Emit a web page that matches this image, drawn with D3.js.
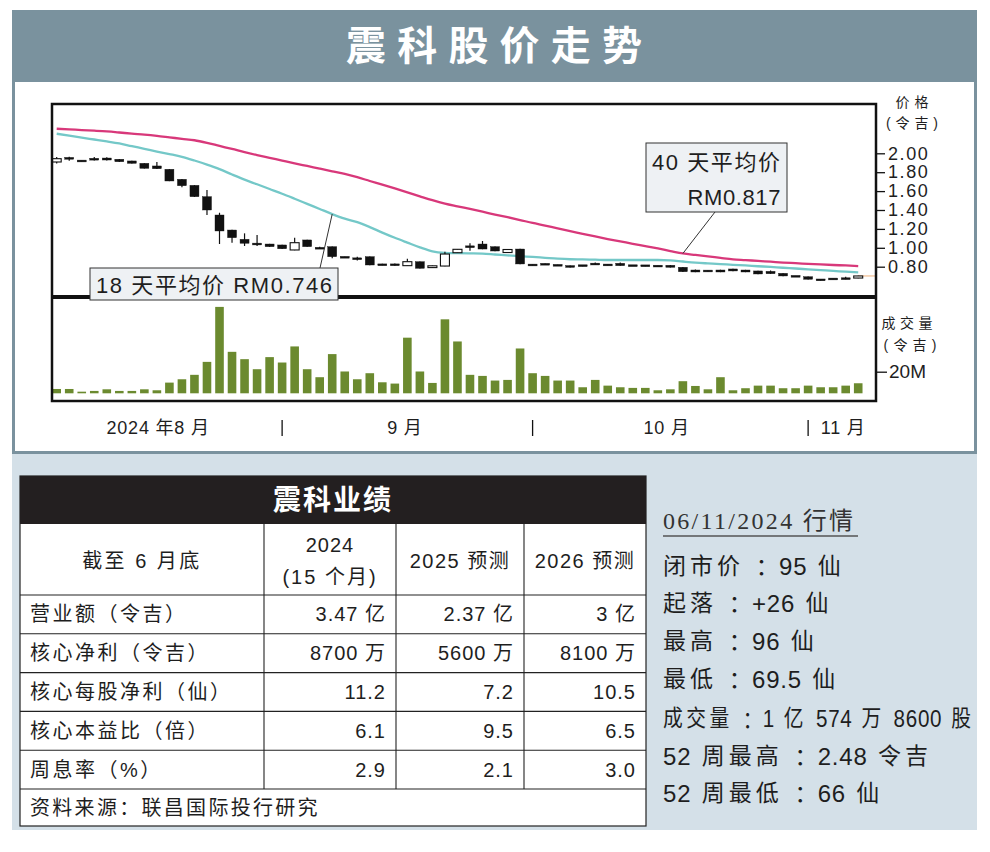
<!DOCTYPE html>
<html><head><meta charset="utf-8">
<script src="https://cdn.jsdelivr.net/npm/d3@7/dist/d3.min.js"></script>
<style>
body{margin:0;background:#fff}
svg{display:block}
text{font-family:"Liberation Sans","Noto Sans CJK SC",sans-serif;fill:#1e1e1e}
</style></head><body>
<svg id="c" width="990" height="852"></svg>
<script>
// ---------- data ----------
const opens  = [1.908,1.948,1.920,1.939,1.950,1.937,1.919,1.894,1.866,1.831,1.725,1.661,1.541,1.347,1.188,1.090,1.041,1.040,1.030,0.977,1.083,0.998,1.012,0.902,0.885,0.906,0.822,0.829,0.811,0.853,0.792,0.807,0.948,1.012,1.040,1.012,0.950,0.987,0.820,0.827,0.817,0.811,0.812,0.829,0.820,0.836,0.812,0.811,0.808,0.815,0.794,0.765,0.756,0.765,0.776,0.765,0.755,0.751,0.730,0.700,0.694,0.662,0.671,0.674,0.680];
const closes = [1.943,1.946,1.917,1.936,1.929,1.911,1.894,1.841,1.837,1.707,1.657,1.541,1.400,1.178,1.107,1.048,1.039,1.012,0.990,1.054,1.012,0.993,0.906,0.898,0.883,0.818,0.818,0.811,0.853,0.783,0.808,0.934,0.984,1.010,0.987,0.966,0.982,0.829,0.816,0.825,0.813,0.794,0.809,0.827,0.817,0.811,0.809,0.808,0.805,0.794,0.747,0.744,0.753,0.744,0.755,0.744,0.723,0.726,0.702,0.697,0.667,0.659,0.669,0.672,0.702];
const highs  = [1.961,1.964,1.921,1.962,1.958,1.940,1.921,1.896,1.908,1.833,1.727,1.663,1.612,1.371,1.190,1.153,1.135,1.042,1.032,1.107,1.085,1.010,1.015,0.905,0.905,0.908,0.832,0.835,0.885,0.855,0.812,0.959,0.986,1.048,1.072,1.014,0.985,0.990,0.822,0.835,0.820,0.813,0.815,0.845,0.823,0.845,0.814,0.813,0.810,0.817,0.796,0.770,0.760,0.768,0.778,0.767,0.757,0.760,0.732,0.702,0.696,0.665,0.673,0.694,0.705];
const lows   = [1.892,1.922,1.916,1.925,1.925,1.908,1.892,1.839,1.835,1.705,1.640,1.538,1.347,1.040,1.054,1.019,1.020,1.010,0.988,0.975,1.010,0.990,0.889,0.895,0.865,0.816,0.816,0.810,0.810,0.780,0.788,0.805,0.946,0.969,0.985,0.964,0.945,0.826,0.814,0.820,0.810,0.792,0.806,0.820,0.815,0.809,0.807,0.806,0.803,0.792,0.745,0.742,0.750,0.742,0.753,0.742,0.721,0.724,0.700,0.695,0.665,0.655,0.667,0.668,0.678];
const volumes = [4.0,4.0,1.5,2.2,3.7,2.2,2.2,3.7,2.8,9.9,13.0,17.1,29.1,80,38.4,31.6,22.3,33.5,28.5,43.4,22.3,14.9,36.3,20.2,13.0,18.6,10.2,9.0,51.5,20.2,9.6,68.5,48,17.1,16.1,11.8,12.4,41.5,18.6,16.1,11.8,11.8,5.6,12.4,7.1,5.6,5.0,5.0,2.8,3.7,11.2,6.8,3.7,14.9,2.8,4.7,7.1,7.1,4.7,4.7,7.1,5.6,5.6,7.1,9.3];
const ma40 = [2.260,2.253,2.246,2.239,2.231,2.220,2.208,2.198,2.185,2.169,2.153,2.138,2.111,2.078,2.046,2.012,1.981,1.952,1.923,1.894,1.866,1.838,1.810,1.782,1.747,1.707,1.668,1.628,1.587,1.545,1.504,1.468,1.439,1.411,1.382,1.352,1.324,1.294,1.263,1.235,1.205,1.177,1.148,1.120,1.093,1.068,1.042,1.018,0.993,0.966,0.940,0.924,0.909,0.893,0.878,0.870,0.861,0.853,0.844,0.837,0.830,0.824,0.818,0.813,0.807];
const ma18 = [2.207,2.187,2.166,2.146,2.126,2.104,2.075,2.048,2.019,1.992,1.963,1.924,1.881,1.833,1.776,1.721,1.672,1.622,1.572,1.519,1.465,1.411,1.357,1.309,1.271,1.219,1.161,1.106,1.055,1.005,0.963,0.947,0.943,0.941,0.938,0.929,0.920,0.911,0.903,0.894,0.885,0.879,0.877,0.874,0.871,0.871,0.871,0.871,0.871,0.868,0.855,0.843,0.835,0.828,0.820,0.813,0.805,0.798,0.789,0.781,0.772,0.764,0.756,0.747,0.739];
const priceTicks = [2.00,1.80,1.60,1.40,1.20,1.00,0.80];
const volTicks = [20];
const monthBreaks = [18,38,60];
const monthLabels = ["2024 年8 月","9 月","10 月","11 月"];
const monthLabelPos = [8.1,27.8,48.7,62.8];
const ma18Label = "18 天平均价 RM0.746";
const ma40Label = ["40 天平均价","RM0.817"];

const tableTitle = "震科业绩";
const tableHead = ["截至 6 月底",["2024","(15 个月)"],"2025 预测","2026 预测"];
const rowLabels = ["营业额（令吉）","核心净利（令吉）","核心每股净利（仙）","核心本益比（倍）","周息率（%）"];
const col2024 = ["3.47 亿","8700 万","11.2","6.1","2.9"];
const col2025 = ["2.37 亿","5600 万","7.2","9.5","2.1"];
const col2026 = ["3 亿","8100 万","10.5","6.5","3.0"];
const sourceNote = "资料来源：联昌国际投行研究";

const quoteTitle = "06/11/2024 行情";
const quoteLines = ["闭市价：95 仙","起落：+26 仙","最高：96 仙","最低：69.5 仙","成交量：1 亿 574 万 8600 股","52 周最高：2.48 令吉","52 周最低：66 仙"];
const quoteWidths = [180,167,149,177,308,274,217];

// ---------- layout ----------
const svg = d3.select("#c");
const GRAY = "#7a929e", LIGHT = "#d4e0e8";
svg.append("rect").attr("x",12).attr("y",10).attr("width",965).attr("height",444).attr("fill",GRAY);
svg.append("rect").attr("x",15).attr("y",82).attr("width",959).attr("height",369).attr("fill","#fff");
svg.append("rect").attr("x",12).attr("y",454).attr("width",965).attr("height",376).attr("fill",LIGHT);

svg.append("text").text("震科股价走势").attr("x",494).attr("y",46)
  .attr("text-anchor","middle").attr("dominant-baseline","central")
  .attr("font-size",40).attr("font-weight",700).style("fill","#fff")
  .attr("textLength",296).attr("lengthAdjust","spacing");

// scales
const x = d3.scaleLinear().domain([-0.375,65.5]).range([52,877]);
const yP = d3.scaleLinear().domain([0.8,2.0]).range([266.7,153.3]);
const yV = d3.scaleLinear().domain([0,20]).range([393.3,371.7]);

const idx = d3.range(opens.length);

svg.append("clipPath").attr("id","pclip").append("rect")
  .attr("x",52).attr("y",104).attr("width",824).attr("height",192);

const pg = svg.append("g").attr("clip-path","url(#pclip)");
const line = arr => d3.line().x((d,i)=>x(i)).y(d=>yP(d)).curve(d3.curveMonotoneX)(arr);
pg.append("path").attr("d",line(ma40)).attr("fill","none").attr("stroke","#d8387a").attr("stroke-width",2.3);
pg.append("path").attr("d",line(ma18)).attr("fill","none").attr("stroke","#74c8c8").attr("stroke-width",2.3);

pg.append("line").attr("x1",x(idx.length-1)).attr("x2",880)
  .attr("y1",yP(closes[closes.length-1])).attr("y2",yP(closes[closes.length-1]))
  .attr("stroke","#f0b07a").attr("stroke-width",1);

const cg = pg.append("g");
idx.forEach(i=>{
  cg.append("line").attr("x1",x(i)).attr("x2",x(i)).attr("y1",yP(highs[i])).attr("y2",yP(lows[i]))
    .attr("stroke","#111").attr("stroke-width",1.2);
  const top = yP(Math.max(opens[i],closes[i])), bot = yP(Math.min(opens[i],closes[i]));
  const h = Math.max(1.8, bot-top);
  const up = closes[i] > opens[i] + 0.005;
  cg.append("rect").attr("x",x(i)-4.5).attr("width",9).attr("y",(top+bot)/2-h/2).attr("height",h)
    .attr("fill",up?"#fff":"#111").attr("stroke","#111").attr("stroke-width",up?1.1:0.4);
});

svg.append("g").selectAll("rect").data(volumes).join("rect")
  .attr("x",(d,i)=>x(i)-4.3).attr("width",8.6)
  .attr("y",d=>yV(d)).attr("height",d=>yV(0)-yV(d)).attr("fill","#6b8a2f");

svg.append("rect").attr("x",52).attr("y",104).attr("width",824).attr("height",297)
  .attr("fill","none").attr("stroke","#111").attr("stroke-width",2.5);
svg.append("line").attr("x1",52).attr("x2",876).attr("y1",297).attr("y2",297)
  .attr("stroke","#111").attr("stroke-width",4);

const pa = svg.append("g").attr("transform","translate(877,0)")
  .call(d3.axisRight(yP).tickValues(priceTicks).tickSize(8).tickPadding(3).tickFormat(d3.format(".2f")));
pa.select(".domain").remove();
pa.selectAll("line").attr("stroke","#111").attr("stroke-width",1.3);
pa.selectAll("text").attr("font-size",18).style("letter-spacing","1.6px")
  .style("font-family","Liberation Sans").style("fill","#1e1e1e");

const va = svg.append("g").attr("transform","translate(877,0)")
  .call(d3.axisRight(yV).tickValues(volTicks).tickSize(10).tickPadding(2).tickFormat(d=>d+"M"));
va.select(".domain").remove();
va.selectAll("line").attr("stroke","#111").attr("stroke-width",1.3);
va.selectAll("text").attr("font-size",19).style("font-family","Liberation Sans").style("fill","#1e1e1e");

const small = (t,cx,cy,w)=>svg.append("text").text(t).attr("x",cx).attr("y",cy)
  .attr("text-anchor","middle").attr("dominant-baseline","central").attr("font-size",14)
  .attr("textLength",w).attr("lengthAdjust","spacing");
small("价格",912,102,33);
small("( 令 吉 )",912,123,52);
small("成交量",907,323,51);
small("( 令 吉 )",910,345,53);

monthBreaks.forEach(b=>{
  svg.append("line").attr("x1",x(b)).attr("x2",x(b)).attr("y1",420).attr("y2",436)
    .attr("stroke","#111").attr("stroke-width",1.3);
});
monthLabels.forEach((t,k)=>{
  svg.append("text").text(t).attr("x",x(monthLabelPos[k])).attr("y",428)
    .attr("text-anchor","middle").attr("dominant-baseline","central")
    .attr("font-size",18).style("letter-spacing","0.8px");
});

// annotations
const a18 = 22, a40 = 50;
svg.append("line").attr("x1",x(a18)).attr("y1",yP(ma18[a18])).attr("x2",320).attr("y2",268)
  .attr("stroke","#333").attr("stroke-width",1);
svg.append("rect").attr("x",90).attr("y",268).attr("width",248).attr("height",32)
  .attr("fill","#eef1f4").attr("stroke","#333").attr("stroke-width",1);
svg.append("text").text(ma18Label).attr("x",96).attr("y",285).attr("dominant-baseline","central")
  .attr("font-size",22).attr("textLength",236).attr("lengthAdjust","spacing");

svg.append("line").attr("x1",x(a40)).attr("y1",yP(ma40[a40])).attr("x2",715).attr("y2",212)
  .attr("stroke","#333").attr("stroke-width",1);
svg.append("rect").attr("x",646).attr("y",143).attr("width",141).attr("height",69)
  .attr("fill","#eef1f4").attr("stroke","#333").attr("stroke-width",1);
svg.append("text").text(ma40Label[0]).attr("x",652).attr("y",162).attr("dominant-baseline","central")
  .attr("font-size",22).attr("textLength",128).attr("lengthAdjust","spacing");
svg.append("text").text(ma40Label[1]).attr("x",781).attr("y",197).attr("dominant-baseline","central")
  .attr("text-anchor","end").attr("font-size",22).style("letter-spacing","0.6px");

// ---------- table ----------
const T = {cols:[20,264,396,524,646], headBot:524, hdrBot:595, rowH:38.8};
svg.append("rect").attr("x",20).attr("y",476).attr("width",626).attr("height",350)
  .attr("fill","#fff").attr("stroke","#222").attr("stroke-width",1.2);
svg.append("rect").attr("x",20).attr("y",476).attr("width",626).attr("height",48).attr("fill","#231f20");
svg.append("text").text(tableTitle).attr("x",333).attr("y",500).attr("text-anchor","middle")
  .attr("dominant-baseline","central").attr("font-size",28).attr("font-weight",700)
  .style("fill","#fff").style("letter-spacing","2px");

const rowYs = d3.range(6).map(k=>T.hdrBot + k*T.rowH);
[T.hdrBot, ...rowYs.slice(1)].forEach(yy=>{
  svg.append("line").attr("x1",20).attr("x2",646).attr("y1",yy).attr("y2",yy).attr("stroke","#222").attr("stroke-width",1.1);
});
T.cols.slice(1,4).forEach(cx=>{
  svg.append("line").attr("x1",cx).attr("x2",cx).attr("y1",T.headBot).attr("y2",rowYs[5]).attr("stroke","#222").attr("stroke-width",1.1);
});
const tt = (t,xx,yy,anchor,ls)=>svg.append("text").text(t).attr("x",xx).attr("y",yy)
  .attr("text-anchor",anchor).attr("dominant-baseline","central").attr("font-size",20)
  .style("letter-spacing",(ls||0)+"px");
const hcy = (T.headBot+T.hdrBot)/2+1;
tt(tableHead[0],142,hcy,"middle",2.5);
tt(tableHead[1][0],330,545,"middle",1);
tt(tableHead[1][1],330,577,"middle",2);
tt(tableHead[2],460,hcy,"middle",1.5);
tt(tableHead[3],585,hcy,"middle",1.5);
const valCols = [col2024,col2025,col2026];
rowLabels.forEach((lab,k)=>{
  const cy = rowYs[k]+T.rowH/2;
  tt(lab,30,cy,"start",2.5);
  valCols.forEach((col,c)=>{
    tt(col[k],T.cols[c+2]-10,cy,"end",1);
  });
});
tt(sourceNote,30,rowYs[5]+(826-rowYs[5])/2,"start",2.3);

// ---------- quote panel ----------
svg.append("text").text(quoteTitle).attr("x",663).attr("y",521).attr("dominant-baseline","central")
  .attr("font-size",24).style("font-family","'Liberation Serif','Noto Sans CJK SC',serif")
  .style("fill","#333").style("letter-spacing","2.3px");
svg.append("line").attr("x1",663).attr("x2",858).attr("y1",536).attr("y2",536).attr("stroke","#555").attr("stroke-width",1.5);
const qY = [566,603,641,679,718,756,793];
quoteLines.forEach((t,k)=>{
  const parts = t.split("：");
  const te = svg.append("text").attr("x",0).attr("y",0).attr("dominant-baseline","central")
    .attr("font-size",23).style("letter-spacing","4px");
  const addRuns = s => {
    s.split(/([0-9.+]+)/).filter(r=>r.length).forEach(r=>{
      const isNum = /^[0-9.+]+$/.test(r);
      const sp = te.append("tspan").text(r);
      if (isNum) sp.attr("font-size",24).style("letter-spacing","0.8px");
    });
  };
  addRuns(parts[0]);
  te.append("tspan").text("：").attr("dx",6).style("font-family","'Noto Sans CJK TC'").style("letter-spacing","6px");
  addRuns(parts[1]);
  const natural = te.node().getComputedTextLength() + 2;
  const sx = natural > quoteWidths[k] + 8 ? quoteWidths[k]/natural : 1;
  te.attr("transform",`translate(663,${qY[k]}) scale(${sx},1)`);
});
</script>
</body></html>
